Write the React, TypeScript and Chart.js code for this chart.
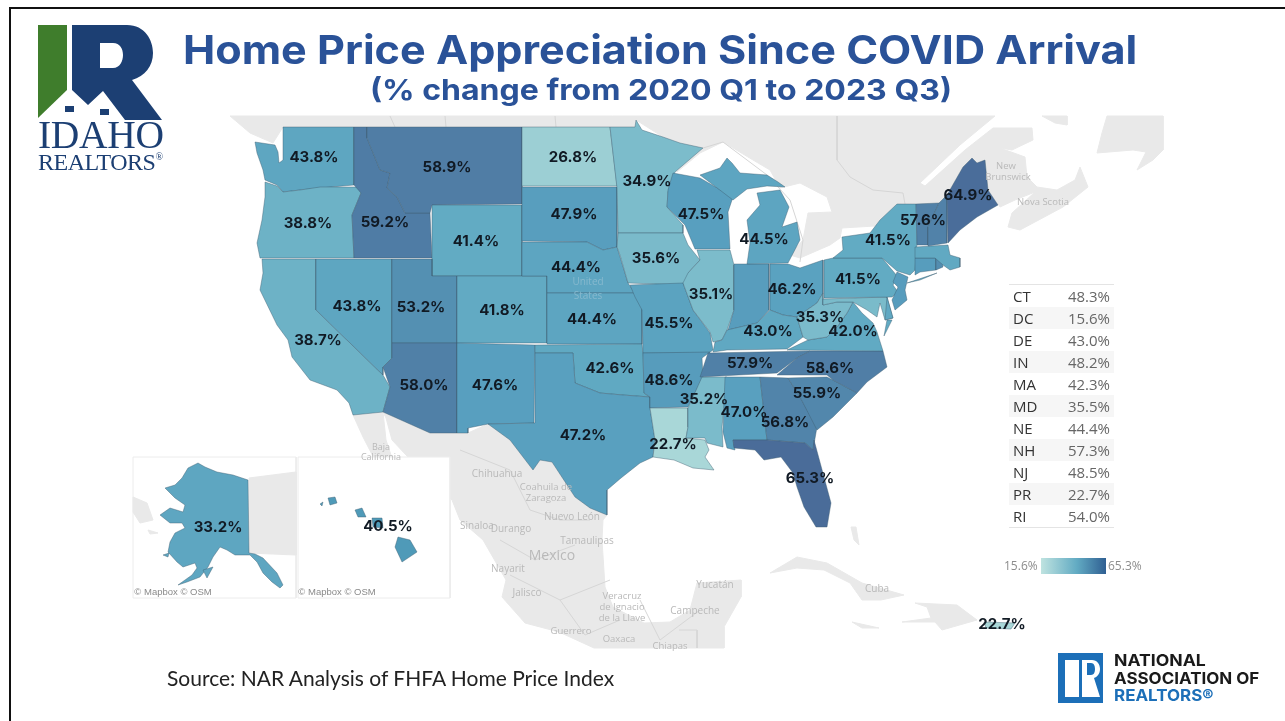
import React, { useEffect, useRef } from "react";
import { Chart, registerables } from "chart.js";

Chart.register(...registerables);

type Pt = [number, number];

const stateCodes = ["WA","OR","CA","NV","ID","MT","WY","UT","AZ","CO","NM","ND","SD","NE","KS","OK","TX","MN","IA","MO","AR","LA","MS","WI","IL","IN","MI","OH","KY","TN","AL","GA","FL","SC","NC","VA","WV","MD","DE","PA","NJ","NY","CT","RI","MA","VT","NH","ME","AK","HI","PR"];
const stateValues = [43.8,38.8,38.7,43.8,59.2,58.9,41.4,53.2,58.0,41.8,47.6,26.8,47.9,44.4,44.4,42.6,47.2,34.9,35.6,45.5,48.6,22.7,35.2,47.5,35.1,48.2,44.5,46.2,43.0,57.9,47.0,56.8,65.3,55.9,58.6,42.0,35.3,35.5,43.0,41.5,48.5,41.5,48.3,54.0,42.3,57.6,57.3,64.9,33.2,40.5,22.7];
const hiddenLabels = ["IN","MD","DE","NJ","CT","RI","MA","NH"];

const tableCodes = ["CT","DC","DE","IN","MA","MD","NE","NH","NJ","PR","RI"];
const tableValues = ["48.3%","15.6%","43.0%","48.2%","42.3%","35.5%","44.4%","57.3%","48.5%","22.7%","54.0%"];

const scaleValues = [15.6,22.7,26.8,35,41.5,47.5,53.2,58.5,65.3];
const scaleColors = ["#bfe3e0","#a9d7d8","#9ccfd4","#7cbccb","#62abc3","#589fbf","#5490b2","#507ea6","#4a6c99"];
const insetColors: Record<string, string> = { AK: "#5ea6c1", HI: "#4f9ab8" };

// Map geometry, in map units
const stateShapes: Record<string, Pt[][]> = {
  WA: [[[283,127],[354,127],[354,185],[320,188],[300,190],[283,192],[277,185],[265,180],[263,170],[257,153],[255,142],[275,145],[278,152],[279,163],[283,160],[283,140]]],
  OR: [[[265,182],[277,186],[283,192],[300,190],[320,187],[358,187],[361,193],[352,215],[354,258],[260,258],[257,243],[262,220],[265,197]]],
  CA: [[[262,259],[316,259],[316,310],[383,375],[390,387],[383,412],[353,415],[349,403],[337,390],[310,380],[292,357],[288,340],[277,325],[260,290],[263,273]]],
  NV: [[[316,259],[392,259],[392,358],[383,367],[383,375],[316,310]]],
  ID: [[[354,127],[367,127],[367,138],[380,170],[390,173],[387,188],[397,197],[405,213],[430,213],[432,258],[354,258],[352,215],[361,193],[354,185]]],
  MT: [[[367,127],[522,127],[522,204],[432,205],[430,213],[405,213],[397,197],[387,188],[390,173],[380,170],[367,138]]],
  WY: [[[432,205],[522,205],[522,276],[432,276]]],
  UT: [[[392,259],[432,259],[432,276],[457,276],[457,343],[392,343]]],
  AZ: [[[392,343],[457,343],[457,433],[430,433],[383,412],[390,387],[383,367],[392,358]]],
  CO: [[[457,276],[547,276],[547,343],[457,343]]],
  NM: [[[457,343],[535,345],[534,423],[488,424],[468,428],[468,433],[457,433]]],
  ND: [[[522,127],[610,127],[617,186],[522,186]]],
  SD: [[[522,187],[617,187],[617,247],[603,250],[587,242],[522,241]]],
  NE: [[[522,242],[587,242],[603,250],[617,247],[628,283],[635,293],[547,293],[547,276],[522,276]]],
  KS: [[[547,293],[635,293],[642,308],[642,344],[547,344]]],
  OK: [[[535,345],[642,344],[643,353],[644,393],[650,397],[623,395],[600,393],[575,383],[573,353],[535,353]]],
  TX: [[[535,353],[573,353],[575,383],[600,393],[623,395],[650,397],[650,408],[655,440],[653,457],[640,463],[621,478],[607,490],[607,515],[590,508],[575,497],[552,462],[540,460],[533,470],[510,440],[488,424],[535,423]]],
  MN: [[[610,127],[635,127],[636,120],[642,130],[663,137],[680,143],[703,148],[675,172],[668,192],[667,207],[683,225],[683,233],[618,233],[617,188]]],
  IA: [[[618,233],[683,233],[688,245],[700,260],[689,272],[688,282],[684,285],[628,283],[620,255],[617,247]]],
  MO: [[[630,285],[683,283],[693,310],[710,333],[713,350],[709,353],[643,353],[642,310],[635,297]]],
  AR: [[[643,353],[710,352],[702,358],[703,377],[688,407],[650,408],[650,397],[644,393]]],
  LA: [[[650,408],[688,408],[688,427],[686,438],[705,440],[709,450],[705,457],[714,470],[693,468],[674,460],[653,457],[655,440]]],
  MS: [[[702,377],[727,377],[722,427],[723,447],[707,443],[705,438],[686,438],[688,427],[688,408]]],
  WI: [[[673,173],[700,178],[733,197],[728,212],[730,249],[695,249],[685,225],[667,207],[668,190]]],
  IL: [[[697,250],[730,250],[734,265],[734,310],[727,330],[722,340],[713,342],[710,332],[693,310],[683,283],[688,273],[700,260]]],
  IN: [[[734,264],[769,264],[769,310],[757,323],[728,330],[734,310]]],
  MI: [[[700,175],[720,168],[727,158],[732,163],[740,173],[767,175],[778,182],[785,187],[767,186],[747,189],[733,200]],[[757,193],[780,190],[789,207],[782,227],[797,222],[800,240],[788,263],[747,264],[750,243],[747,220],[760,205]]],
  OH: [[[770,264],[788,264],[800,268],[823,260],[823,293],[817,303],[797,317],[783,315],[770,310]]],
  KY: [[[727,330],[757,323],[770,310],[783,315],[797,317],[803,337],[787,349],[727,350],[713,352],[715,342],[722,340]]],
  TN: [[[708,353],[810,351],[797,358],[777,373],[700,377]]],
  AL: [[[725,377],[760,377],[767,440],[733,440],[735,450],[727,448],[723,432]]],
  GA: [[[760,377],[788,378],[800,397],[817,427],[813,450],[805,443],[767,440]]],
  FL: [[[733,440],[767,440],[805,443],[813,450],[814,440],[831,503],[827,527],[816,527],[804,507],[797,487],[793,473],[781,457],[764,460],[755,450],[734,448]]],
  SC: [[[788,378],[827,377],[833,380],[857,393],[833,417],[817,430],[800,397]]],
  NC: [[[777,375],[797,358],[810,351],[883,351],[887,367],[867,382],[857,393],[833,380],[827,375]]],
  VA: [[[787,350],[808,340],[827,337],[837,327],[847,313],[853,302],[862,313],[873,323],[877,332],[883,351]],[[887,320],[892,320],[884,336]]],
  WV: [[[823,293],[823,305],[837,302],[853,302],[847,313],[837,327],[827,337],[808,340],[803,337],[797,317],[817,303]]],
  MD: [[[823,299],[887,297],[893,318],[885,320],[880,303],[877,317],[867,310],[853,302],[837,302],[823,305]]],
  DE: [[[887,297],[893,318],[885,320]]],
  PA: [[[824,260],[833,258],[882,258],[898,277],[893,285],[898,292],[892,297],[824,298]]],
  NJ: [[[897,272],[908,277],[905,290],[907,300],[895,310],[892,300],[898,287],[893,282]]],
  NY: [[[897,204],[916,204],[917,243],[915,270],[910,275],[897,271],[882,258],[833,258],[843,250],[842,237],[870,233],[880,220]],[[907,283],[937,273],[920,280]]],
  CT: [[[915,258],[936,258],[936,270],[920,272],[915,275]]],
  RI: [[[936,258],[942,258],[943,267],[936,270]]],
  MA: [[[915,247],[948,245],[950,255],[960,258],[960,267],[950,270],[943,265],[935,258],[915,258]]],
  VT: [[[916,204],[939,203],[928,227],[928,245],[917,245]]],
  NH: [[[939,203],[947,195],[947,243],[928,246],[928,227]]],
  ME: [[[947,195],[963,167],[972,158],[977,163],[985,160],[988,190],[998,205],[977,217],[960,230],[948,243]]],
  AK: [[[198,463],[205,467],[217,472],[233,475],[248,480],[249,553],[255,554],[263,558],[277,573],[283,585],[280,588],[272,582],[263,573],[257,562],[250,555],[235,555],[227,550],[220,547],[213,557],[208,567],[200,577],[187,582],[178,585],[192,575],[197,568],[195,563],[183,567],[177,562],[168,552],[170,542],[175,533],[185,528],[182,523],[170,523],[160,515],[170,508],[183,512],[185,505],[175,498],[165,488],[175,485],[182,478],[188,468]],[[203,570],[213,567],[207,578]],[[163,555],[169,553],[168,557]]],
  HI: [[[398,537],[410,540],[417,552],[402,562],[395,547]],[[372,518],[382,518],[383,528],[373,527]],[[355,510],[362,508],[366,517],[358,517]],[[328,498],[335,497],[337,503],[330,505]],[[320,504],[323,502],[322,506]]],
  PR: [[[984,622],[1015,623],[1011,629],[986,628]]],
};

const labelAnchors: Record<string, Pt> = {
  WA:[314,157],OR:[308,223],CA:[318,340],NV:[357,306],ID:[385,222],MT:[447,167],WY:[476,241],UT:[421,307],AZ:[424,385],CO:[502,310],NM:[495,385],ND:[573,157],SD:[574,214],NE:[576,267],KS:[592,319],OK:[610,368],TX:[583,435],MN:[647,181],IA:[656,258],MO:[669,323],AR:[669,380],LA:[673,444],MS:[704,399],WI:[701,214],IL:[711,294],MI:[764,239],OH:[792,289],KY:[768,331],TN:[750,363],AL:[744,412],GA:[785,422],FL:[810,478],SC:[817,393],NC:[830,368],VA:[853,331],WV:[820,317],PA:[858,279],NY:[888,240],VT:[923,220],ME:[968,195],AK:[218,527],HI:[388,526],PR:[1002,624],
};

const landShapes: Pt[][] = [
  [[230,116],[995,116],[960,145],[920,183],[925,186],[965,150],[993,128],[1032,128],[1033,140],[1012,150],[1000,148],[1025,157],[1027,177],[1037,187],[1057,190],[1075,180],[1080,167],[1088,187],[1063,207],[1020,230],[1008,227],[1012,213],[1035,192],[1015,200],[1000,207],[985,185],[947,195],[939,203],[897,204],[880,220],[875,226],[842,228],[840,238],[830,245],[800,258],[790,255],[803,240],[808,213],[832,212],[827,197],[800,183],[780,188],[770,170],[753,160],[723,142],[700,153],[677,172],[663,137],[636,120],[635,127],[283,127],[273,143],[250,133]],
  [[1042,116],[1067,116],[1067,125],[1055,123]],
  [[1107,116],[1163,116],[1163,150],[1153,160],[1137,170],[1146,152],[1133,150],[1097,153],[1102,133]],
  [[430,433],[457,433],[468,433],[488,424],[510,440],[533,470],[540,460],[552,462],[575,497],[607,515],[603,520],[602,540],[605,587],[613,607],[644,623],[670,622],[690,610],[697,583],[741,580],[741,597],[724,627],[724,648],[594,648],[559,632],[525,623],[502,597],[506,580],[483,540],[460,520],[452,500],[420,470],[392,440],[386,418],[383,412]],
  [[353,415],[383,412],[386,440],[396,470],[380,470],[363,437]],
  [[770,573],[797,557],[827,563],[862,583],[904,595],[881,600],[862,600],[850,583],[824,570],[797,568]],
  [[915,603],[957,605],[977,620],[942,630],[935,622],[902,622],[931,618],[927,607]],
  [[852,622],[879,628],[862,628]],
  [[851,527],[856,527],[859,545],[854,540]],
];

const insetFrames: Pt[][] = [
  [[133,457],[296,457],[296,598],[133,598]],
  [[298,457],[450,457],[450,598],[298,598]],
];
const insetLand: Pt[][] = [
  [[249,478],[296,472],[296,555],[249,553]],
  [[133,497],[147,503],[153,520],[140,523],[133,512]],
  [[148,530],[158,533],[150,534]],
];

const borderLines: Pt[][] = [
  [[837,116],[837,160],[850,177],[873,190],[903,193],[905,204]],
  [[703,148],[723,142],[767,175],[790,200],[803,240],[800,262]],
  [[390,116],[395,127]],[[445,116],[446,127]],[[555,116],[556,127]],
  [[510,470],[530,510],[560,520],[590,520]],[[500,540],[535,560],[575,545]],[[510,575],[560,600],[610,580]],[[560,600],[585,635],[620,620]],[[640,600],[660,640],[700,610]],[[679,630],[697,630],[697,648]],[[460,450],[510,470]],
];

const mapLabels: [string, number, number, number][] = [
  ["United",588,282,10],["States",588,296,10],
  ["Baja",381,447,9],["California",381,457,9],
  ["Chihuahua",497,474,10],["Coahuila de",546,487,9.5],["Zaragoza",546,498,9.5],["Nuevo León",572,517,10],["Sinaloa",477,526,10],["Durango",511,529,10],["Tamaulipas",587,541,10],["Mexico",552,556,14],["Nayarit",508,569,10],["Jalisco",527,593,10],["Veracruz",622,596,9.5],["de Ignacio",622,607,9.5],["de la Llave",622,618,9.5],["Guerrero",571,631,9.5],["Oaxaca",619,639,9.5],["Chiapas",670,646,9.5],["Yucatán",715,585,10],["Campeche",695,611,10],["Cuba",877,589,10],
  ["New",1006,166,9.5],["Brunswick",1008,177,9.5],["Nova Scotia",1043,202,9.5],
];
const creditLabels: [string, number, number][] = [["© Mapbox © OSM",173,592],["© Mapbox © OSM",337,592]];

const FRAME_COLOR = "#ececec";
const LAND_COLOR = "#e9e9e9";

function hexToRgb(h: string) {
  return [1, 3, 5].map((i) => parseInt(h.slice(i, i + 2), 16));
}
function valueColor(v: number) {
  let i = 0;
  while (i < scaleValues.length - 2 && v > scaleValues[i + 1]) i++;
  const t = Math.min(1, Math.max(0, (v - scaleValues[i]) / (scaleValues[i + 1] - scaleValues[i])));
  const a = hexToRgb(scaleColors[i]);
  const b = hexToRgb(scaleColors[i + 1]);
  return `rgb(${a.map((c, k) => Math.round(c + (b[k] - c) * t)).join(",")})`;
}
const toXY = (s: Pt[]) => [...s, s[0]].map(([x, y]) => ({ x, y }));

function shapeDataset(shape: Pt[], fill: string, border: string, width: number) {
  return { data: toXY(shape), fill: "shape", backgroundColor: fill, borderColor: border, borderWidth: width, pointRadius: 0, tension: 0, clip: false as const };
}

const labelPlugin = {
  id: "mapText",
  afterDatasetsDraw(chart: any) {
    const { ctx, scales: { x, y } } = chart;
    ctx.save();
    ctx.textAlign = "center";
    ctx.textBaseline = "middle";
    mapLabels.forEach(([t, lx, ly, size]) => {
      ctx.font = `${size}px "Open Sans"`;
      ctx.fillStyle = t === "United" || t === "States" ? "#86b9ce" : "#b9b9b9";
      ctx.fillText(t, x.getPixelForValue(lx), y.getPixelForValue(ly));
    });
    ctx.font = '9.5px "Liberation Sans"';
    ctx.fillStyle = "#8a8a8a";
    creditLabels.forEach(([t, lx, ly]) => ctx.fillText(t, x.getPixelForValue(lx), y.getPixelForValue(ly)));
    ctx.font = '700 15px Inter';
    ctx.fillStyle = "#111a24";
    stateCodes.forEach((code, i) => {
      if (hiddenLabels.includes(code)) return;
      const a = labelAnchors[code];
      if (a) ctx.fillText(`${stateValues[i].toFixed(1)}%`, x.getPixelForValue(a[0]), y.getPixelForValue(a[1]));
    });
    ctx.restore();
  },
};

const abs = (left: number, top: number, extra: React.CSSProperties = {}): React.CSSProperties => ({ position: "absolute", left, top, whiteSpace: "nowrap", ...extra });

export default function App() {
  const ref = useRef<HTMLCanvasElement>(null);
  useEffect(() => {
    const datasets: any[] = [];
    landShapes.forEach((s) => datasets.push(shapeDataset(s, LAND_COLOR, LAND_COLOR, 1)));
    borderLines.forEach((s) => datasets.push({ data: s.map(([x, y]) => ({ x, y })), fill: false, borderColor: "#d6d6d6", borderWidth: 1, pointRadius: 0, clip: false }));
    insetFrames.forEach((s) => datasets.push(shapeDataset(s, "#ffffff", FRAME_COLOR, 1)));
    insetLand.forEach((s) => datasets.push(shapeDataset(s, LAND_COLOR, LAND_COLOR, 1)));
    stateCodes.forEach((code, i) => {
      const color = insetColors[code] || valueColor(stateValues[i]);
      (stateShapes[code] || []).forEach((s) => datasets.push(shapeDataset(s, color, "rgba(62,92,112,0.42)", 1)));
    });
    datasets.forEach((d, i) => { d.order = datasets.length - i; });
    const chart = new Chart(ref.current!, {
      type: "line",
      data: { datasets },
      options: {
        animation: false,
        responsive: false,
        maintainAspectRatio: false,
        layout: { padding: 0 },
        scales: {
          x: { type: "linear", min: 0, max: 1285, display: false },
          y: { type: "linear", min: 0, max: 721, reverse: true, display: false },
        },
        plugins: { legend: { display: false }, tooltip: { enabled: false }, title: { display: false } },
      },
      plugins: [labelPlugin],
    } as any);
    return () => chart.destroy();
  }, []);

  const tableTop = 285;
  const rowH = 22;
  const navy = "#1c3f73";
  const titleBlue = "#2a5298";
  const narBlue = "#1c6fb8";
  const stretch = (k: number): React.CSSProperties => ({ transform: `scaleX(${k})`, transformOrigin: "left center" });

  return (
    <div style={{ position: "fixed", left: 0, top: 0, width: 1285, height: 721, background: "#fff", overflow: "hidden" }}>
      <canvas ref={ref} width={1285} height={721} style={{ position: "absolute", left: 0, top: 0, width: 1285, height: 721 }} />
      <div style={abs(9, 7, { width: 1276, height: 714, borderTop: "2px solid #111", borderLeft: "2px solid #111", boxSizing: "border-box" })} />

      <svg width={1285} height={721} style={{ position: "absolute", left: 0, top: 0 }}>
        <path d="M38 25H67V90L38 118Z" fill="#3f7d2c" />
        <path fillRule="evenodd" d="M72 25H127C145 25 153 40 153 53C153 66 145 76 132 80L162 120H125L103 91L88 105L72 90ZM100 43V68H113C120 68 123 61 123 55C123 49 120 43 113 43Z" fill={navy} />
        <rect x={65} y={106} width={9} height={6} fill={navy} />
        <rect x={100} y={109} width={9} height={6} fill={navy} />
        <rect x={1058} y={653} width={45} height={50} fill={narBlue} />
        <rect x={1065} y={660} width={14} height={37} fill="#fff" />
        <path fillRule="evenodd" d="M1082 660H1092C1097 660 1100 664 1100 669C1100 674 1097 677 1094 678L1100 697H1082ZM1087 663V675H1091C1094 675 1095 672 1095 669C1095 666 1094 663 1091 663Z" fill="#fff" />
      </svg>

      <div style={abs(38, 115, { fontFamily: '"Liberation Serif"', fontSize: 39.5, color: navy, lineHeight: "40px", letterSpacing: -0.3 })}>IDAHO</div>
      <div style={abs(38, 150, { fontFamily: '"Liberation Serif"', fontSize: 24, color: navy, lineHeight: "24px", letterSpacing: -0.5 })}>REALTORS<sup style={{ fontSize: 10, verticalAlign: "top", lineHeight: "14px" }}>®</sup></div>

      <div style={abs(183, 26, { fontFamily: "Inter", fontWeight: 700, fontSize: 40, color: titleBlue, lineHeight: "48px", ...stretch(1.079) })}>Home Price Appreciation Since COVID Arrival</div>
      <div style={abs(370, 72, { fontFamily: "Inter", fontWeight: 700, fontSize: 29, color: titleBlue, lineHeight: "36px", ...stretch(1.105) })}>(% change from 2020 Q1 to 2023 Q3)</div>

      <div style={abs(1009, tableTop - 1, { width: 105, height: rowH * tableCodes.length, borderTop: "1px solid #e4e4e4", borderBottom: "1px solid #e4e4e4" })}>
        {tableCodes.map((c, i) => (
          <div key={c} style={{ position: "relative", height: rowH, background: i % 2 ? "#f6f6f6" : "#fff", fontFamily: '"Open Sans"', fontSize: 15, lineHeight: `${rowH}px` }}>
            <span style={{ position: "absolute", left: 4, color: "#333" }}>{c}</span>
            <span style={{ position: "absolute", right: 4, color: "#666" }}>{tableValues[i]}</span>
          </div>
        ))}
      </div>

      <div style={abs(1004, 558, { fontFamily: '"Open Sans"', fontSize: 12, color: "#8c8c8c", lineHeight: "16px" })}>{`${scaleValues[0]}%`}</div>
      <div style={abs(1041, 558, { width: 65, height: 16, background: `linear-gradient(to right, ${scaleColors[0]}, ${scaleColors[4]} 55%, #2f5f92)` })} />
      <div style={abs(1108, 558, { fontFamily: '"Open Sans"', fontSize: 12, color: "#8c8c8c", lineHeight: "16px" })}>{`${scaleValues[scaleValues.length - 1]}%`}</div>

      <div style={abs(167, 665, { fontFamily: "Lato", fontSize: 21, color: "#222", lineHeight: "26px" })}>Source: NAR Analysis of FHFA Home Price Index</div>

      <div style={abs(1114, 651, { fontFamily: "Inter", fontWeight: 700, fontSize: 16, color: "#1a1a1a", lineHeight: "18px", ...stretch(1.1) })}>NATIONAL</div>
      <div style={abs(1114, 669, { fontFamily: "Inter", fontWeight: 700, fontSize: 16, color: "#1a1a1a", lineHeight: "18px", ...stretch(1.06) })}>ASSOCIATION OF</div>
      <div style={abs(1114, 686, { fontFamily: "Inter", fontWeight: 700, fontSize: 16, color: narBlue, lineHeight: "18px", ...stretch(1.06) })}>REALTORS®</div>
    </div>
  );
}
